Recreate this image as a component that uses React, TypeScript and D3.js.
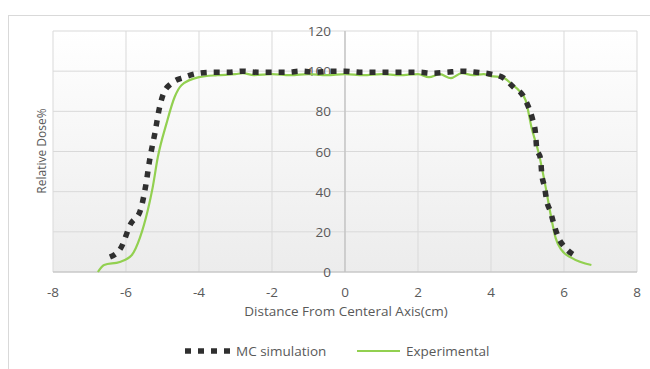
import React, { useRef, useEffect } from 'react';
import * as d3 from 'd3';

// MC simulation (dotted)
const mcX = [-6.44, -6.14, -5.87, -5.62, -5.46, -5.35, -5.21, -5.08, -4.97, -4.75, -4.4, -4, -3.6, -3.2, -2.8, -2.4, -2, -1.6, -1.2, -0.8, -0.4, 0, 0.4, 0.8, 1.2, 1.6, 2, 2.4, 2.8, 3.2, 3.6, 4.0, 4.35, 4.62, 4.87, 5.03, 5.14, 5.22, 5.25, 5.36, 5.39, 5.47, 5.52, 5.63, 5.72, 5.85, 6.04, 6.37];
const mcY = [7.5, 12, 24, 30, 43, 56, 69, 82, 89, 94, 97, 99, 99.5, 99.5, 100, 99.5, 99.5, 99.5, 100, 99.5, 100, 100, 99.5, 99.5, 99.5, 99.5, 99.5, 99, 99.5, 100, 99.5, 98.5, 96.5, 92, 88, 82, 76, 69, 62, 56, 49, 42, 36, 30, 24, 17, 12, 7.5];

// Experimental (green)
const expX = [-6.77, -6.6, -6.17, -5.84, -5.62, -5.4, -5.27, -5.13, -4.89, -4.67, -4.48, -4, -3.5, -3, -2.8, -2.5, -2, -1.5, -1, -0.5, 0, 0.5, 1, 1.5, 2, 2.3, 2.6, 2.9, 3.2, 3.5, 3.8, 4.0, 4.3, 4.6, 4.76, 4.95, 5.11, 5.31, 5.5, 5.63, 5.77, 5.93, 6.21, 6.75];
const expY = [0, 3.5, 5, 8.5, 17, 31, 42, 57, 74, 87, 93, 97, 98, 98.5, 99, 98, 98.5, 98, 98.5, 98, 98.5, 98, 98.5, 98, 98.5, 97, 98.5, 96.5, 99, 98, 98.5, 97.5, 97, 93, 90.5, 85.5, 72, 59, 42, 29, 17, 11, 7, 3.5];

const xTicks = [-8, -6, -4, -2, 0, 2, 4, 6, 8];
const yTicks = [0, 20, 40, 60, 80, 100, 120];

const App: React.FC = () => {
  const svgRef = useRef<SVGSVGElement>(null);

  useEffect(() => {
    const svg = d3.select(svgRef.current);
    svg.selectAll('*').remove();

    const font = "'Open Sans', sans-serif";
    const textColor = '#595959';
    const fs = '13.5px';
    const left = 53, right = 637, top = 31, bottom = 272;

    const x = d3.scaleLinear().domain([-8, 8]).range([left, right]);
    const y = d3.scaleLinear().domain([0, 120]).range([bottom, top]);

    // outer chart border
    svg.append('rect')
      .attr('x', 8.5).attr('y', 15.5)
      .attr('width', 700).attr('height', 400)
      .attr('fill', '#fff').attr('stroke', '#d9d9d9');

    const defs = svg.append('defs');
    const grad = defs.append('linearGradient')
      .attr('id', 'plotBg').attr('x1', 0).attr('y1', 0).attr('x2', 0).attr('y2', 1);
    grad.append('stop').attr('offset', '0%').attr('stop-color', '#ffffff');
    grad.append('stop').attr('offset', '100%').attr('stop-color', '#ececec');

    svg.append('rect')
      .attr('x', left).attr('y', top)
      .attr('width', right - left).attr('height', bottom - top)
      .attr('fill', 'url(#plotBg)');

    // grid
    svg.append('g').selectAll('line')
      .data(yTicks)
      .enter().append('line')
      .attr('x1', left).attr('x2', right)
      .attr('y1', d => y(d)).attr('y2', d => y(d))
      .attr('stroke', '#d9d9d9').attr('stroke-width', 1);

    svg.append('g').selectAll('line')
      .data(xTicks)
      .enter().append('line')
      .attr('x1', d => x(d)).attr('x2', d => x(d))
      .attr('y1', top).attr('y2', bottom)
      .attr('stroke', '#d9d9d9').attr('stroke-width', 1);

    // axes lines
    svg.append('line')
      .attr('x1', x(0)).attr('x2', x(0)).attr('y1', top).attr('y2', bottom)
      .attr('stroke', '#bfbfbf').attr('stroke-width', 1.2);
    svg.append('line')
      .attr('x1', left).attr('x2', right).attr('y1', y(0)).attr('y2', y(0))
      .attr('stroke', '#bfbfbf').attr('stroke-width', 1.2);

    // y tick labels beside the center axis
    svg.append('g').selectAll('text')
      .data(yTicks)
      .enter().append('text')
      .attr('x', x(0) - 14)
      .attr('y', d => y(d) + 5)
      .attr('text-anchor', 'end')
      .attr('fill', textColor)
      .style('font-family', font).style('font-size', fs)
      .text(d => d);

    // x tick labels
    svg.append('g').selectAll('text')
      .data(xTicks)
      .enter().append('text')
      .attr('x', d => x(d))
      .attr('y', 297)
      .attr('text-anchor', 'middle')
      .attr('fill', textColor)
      .style('font-family', font).style('font-size', fs)
      .text(d => d);

    svg.append('text')
      .attr('x', 346).attr('y', 316)
      .attr('text-anchor', 'middle')
      .attr('fill', textColor)
      .style('font-family', font).style('font-size', fs)
      .text('Distance From Centeral Axis(cm)');

    svg.append('text')
      .attr('transform', 'rotate(-90)')
      .attr('x', -151).attr('y', 46)
      .attr('text-anchor', 'middle')
      .attr('fill', textColor)
      .style('font-family', font).style('font-size', '12px')
      .text('Relative Dose%');

    const line = d3.line<[number, number]>()
      .x(d => x(d[0]))
      .y(d => y(d[1]))
      .curve(d3.curveMonotoneX);

    const expData = expX.map((v, i) => [v, expY[i]] as [number, number]);
    const mcData = mcX.map((v, i) => [v, mcY[i]] as [number, number]);

    svg.append('path')
      .datum(expData)
      .attr('d', line)
      .attr('fill', 'none')
      .attr('stroke', '#92d050')
      .attr('stroke-width', 2.2);

    svg.append('path')
      .datum(mcData)
      .attr('d', line)
      .attr('fill', 'none')
      .attr('stroke', '#2f2f2f')
      .attr('stroke-width', 5.5)
      .attr('stroke-dasharray', '6,7');

    // legend
    const ly = 351;
    svg.append('line')
      .attr('x1', 185).attr('x2', 231).attr('y1', ly).attr('y2', ly)
      .attr('stroke', '#2f2f2f').attr('stroke-width', 5.5).attr('stroke-dasharray', '6,7');
    svg.append('text')
      .attr('x', 236).attr('y', ly + 5)
      .attr('fill', textColor)
      .style('font-family', font).style('font-size', fs)
      .text('MC simulation');
    svg.append('line')
      .attr('x1', 357).attr('x2', 400).attr('y1', ly).attr('y2', ly)
      .attr('stroke', '#92d050').attr('stroke-width', 2.2);
    svg.append('text')
      .attr('x', 406).attr('y', ly + 5)
      .attr('fill', textColor)
      .style('font-family', font).style('font-size', fs)
      .text('Experimental');
  }, []);

  return (
    <div style={{ position: 'fixed', left: 0, top: 0, width: 650, height: 369, background: '#fff' }}>
      <svg ref={svgRef} width={650} height={369} style={{ display: 'block' }} />
    </div>
  );
};

export default App;
